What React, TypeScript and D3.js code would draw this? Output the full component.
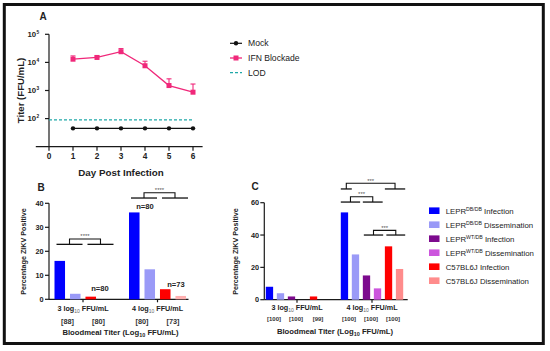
import React from "react";
import * as d3 from "d3";

// ---------- Panel A data ----------
const days = [1, 2, 3, 4, 5, 6];
const ifnMean = [13000, 15000, 24000, 7600, 1500, 870];
const ifnUpper = [17000, 16800, 31000, 11000, 2600, 1700];
const mockValues = [45, 45, 45, 45, 45, 45];
const lodValue = 90;
const yTicksA = [2, 3, 4, 5];
const xTicksA = [0, 1, 2, 3, 4, 5, 6];
const legendA = ["Mock", "IFN Blockade", "LOD"];

// ---------- Panel B data ----------
const groupLabels = ["3", "4"];
const bColors = ["#0000ff", "#9a9af7", "#ff0000", "#ffb0b0"];
const bValuesG3 = [16, 2.3, 1.1, 0];
const bValuesG4 = [36.2, 12.5, 4.2, 1.4];
const bCountsG3 = ["[88]", "[80]"];
const bCountsG4 = ["[80]", "[73]"];
const bTicks = [0, 10, 20, 30, 40];

// ---------- Panel C data ----------
const cColors = ["#0000ff", "#9a9af7", "#7d0a8e", "#cc55dd", "#ff0000", "#ff8c8c"];
const cValuesG3 = [8, 4, 2, 0, 2, 0];
const cValuesG4 = [54, 28, 15, 7, 33, 19];
const cCountsG3 = ["[100]", "[100]", "[99]"];
const cCountsG4 = ["[100]", "[100]", "[100]"];
const cTicks = [0, 20, 40, 60];
const cLegendBase = ["LEPR", "LEPR", "LEPR", "LEPR", "C57BL6J", "C57BL6J"];
const cLegendSup = ["DB/DB", "DB/DB", "WT/DB", "WT/DB", "", ""];
const cLegendKind = ["Infection", "Dissemination", "Infection", "Dissemination", "Infection", "Dissemination"];

const FONT = "'Liberation Sans', Arial, sans-serif";
const AXIS = "#1a1a1a";

function GroupLabel({ x, y, v }: { x: number; y: number; v: string }) {
  return (
    <text x={x} y={y} textAnchor="middle" fontSize={7.2} fontWeight="bold" fill="#222">
      {v} log<tspan fontSize={5} fontWeight="normal" fill="#666" dy={2}>10</tspan>
      <tspan dy={-2}> FFU/mL</tspan>
    </text>
  );
}

function XTitle({ x, y }: { x: number; y: number }) {
  return (
    <text x={x} y={y} textAnchor="middle" fontSize={7.7} fontWeight="bold" fill="#222">
      Bloodmeal Titer (Log<tspan fontSize={5.5} dy={2}>10</tspan>
      <tspan dy={-2}> FFU/mL)</tspan>
    </text>
  );
}

function Bracket({ l0, l1, r0, r1, yLow, yTop, stars }: any) {
  const lc = (l0 + l1) / 2;
  const rc = (r0 + r1) / 2;
  return (
    <g>
      <line x1={l0} x2={l1} y1={yLow} y2={yLow} stroke="#111" strokeWidth={1.3} />
      <line x1={r0} x2={r1} y1={yLow} y2={yLow} stroke="#111" strokeWidth={1.3} />
      <path d={`M${lc},${yLow}V${yTop}H${rc}V${yLow}`} fill="none" stroke="#111" strokeWidth={1.1} />
      <text x={(lc + rc) / 2} y={yTop - 0.8} textAnchor="middle" fontSize={6} fill="#555">
        {stars}
      </text>
    </g>
  );
}

export default function App() {
  // ---- Panel A scales ----
  const xA = d3.scaleLinear().domain([0, 6]).range([49, 193]);
  const yA = d3.scaleLog().domain([10, 1e5]).range([146.7, 34.3]);
  const ifnLine = d3.line<number>().x((_, i) => xA(days[i])).y((v) => yA(v))(ifnMean) || "";
  const mockLine = d3.line<number>().x((_, i) => xA(days[i])).y((v) => yA(v))(mockValues) || "";

  // ---- Panel B scales ----
  const gB = d3.scalePoint<string>().domain(groupLabels).range([83, 157.5]);
  const innerB = d3.scaleBand<number>().domain([0, 1, 2, 3]).range([-28.5, 28.5]).paddingInner(0.32);
  const yB = d3.scaleLinear().domain([0, 40]).range([299.3, 203.3]);
  const bValues = [bValuesG3, bValuesG4];
  const bCounts = [bCountsG3, bCountsG4];
  const bx0 = (g: number, i: number) => (gB(groupLabels[g]) as number) + (innerB(i) as number);
  const bx1 = (g: number, i: number) => bx0(g, i) + innerB.bandwidth();

  // ---- Panel C scales ----
  const gC = d3.scalePoint<string>().domain(groupLabels).range([297, 372]);
  const innerC = d3.scaleBand<number>().domain([0, 1, 2, 3, 4, 5]).range([-31.2, 31.2]).paddingInner(0.336);
  const yC = d3.scaleLinear().domain([0, 60]).range([299.7, 202.7]);
  const cValues = [cValuesG3, cValuesG4];
  const cCounts = [cCountsG3, cCountsG4];
  const cx0 = (g: number, i: number) => (gC(groupLabels[g]) as number) + (innerC(i) as number);
  const cx1 = (g: number, i: number) => cx0(g, i) + innerC.bandwidth();

  return (
    <svg
      width={550}
      height={351}
      style={{ position: "absolute", left: 0, top: 0, background: "#fff" }}
      fontFamily={FONT}
    >
      <rect x={0} y={0} width={550} height={351} fill="#fff" />
      <rect x={4.3} y={4.5} width={539} height={339} fill="none" stroke="#111" strokeWidth={3} />

      {/* ================= Panel A ================= */}
      <text x={43} y={19.8} textAnchor="middle" fontSize={10} fontWeight="bold" fill="#222">A</text>
      <line x1={49} x2={49} y1={yA(1e5)} y2={yA(10)} stroke={AXIS} strokeWidth={1.2} />
      <line x1={xA(-0.55)} x2={xA(6.4)} y1={yA(10)} y2={yA(10)} stroke={AXIS} strokeWidth={1.2} />
      {yTicksA.map((p) => (
        <g key={p}>
          <line x1={45} x2={49} y1={yA(Math.pow(10, p))} y2={yA(Math.pow(10, p))} stroke={AXIS} strokeWidth={1.2} />
          <text x={36.2} y={yA(Math.pow(10, p)) + 2.8} textAnchor="end" fontSize={7.8} fontWeight="bold" fill="#222">10</text>
          <text x={36.5} y={yA(Math.pow(10, p)) - 0.6} fontSize={4.8} fontWeight="bold" fill="#222">{p}</text>
        </g>
      ))}
      {xTicksA.map((t) => (
        <g key={t}>
          <line x1={xA(t)} x2={xA(t)} y1={yA(10)} y2={yA(10) + 4} stroke={AXIS} strokeWidth={1.2} />
          <text x={xA(t)} y={159} textAnchor="middle" fontSize={8.3} fontWeight="bold" fill="#222">{t}</text>
        </g>
      ))}
      <text x={121} y={175.5} textAnchor="middle" fontSize={9.8} fontWeight="bold" fill="#222">Day Post Infection</text>
      <text transform="translate(23.8,90.5) rotate(-90)" textAnchor="middle" fontSize={9.6} fontWeight="bold" fill="#222">
        Titer (FFU/mL)
      </text>
      {/* LOD */}
      <line x1={xA(0)} x2={xA(6)} y1={yA(lodValue)} y2={yA(lodValue)} stroke="#1fa8a8" strokeWidth={1.3} strokeDasharray="3,2" />
      {/* Mock */}
      <path d={mockLine} fill="none" stroke="#111" strokeWidth={1.2} />
      {mockValues.map((v, i) => (
        <circle key={i} cx={xA(days[i])} cy={yA(v)} r={2.2} fill="#111" />
      ))}
      {/* IFN Blockade */}
      {ifnMean.map((v, i) => (
        <g key={i}>
          <line x1={xA(days[i])} x2={xA(days[i])} y1={yA(v)} y2={yA(ifnUpper[i])} stroke="#f0287a" strokeWidth={1.1} />
          <line x1={xA(days[i]) - 2.5} x2={xA(days[i]) + 2.5} y1={yA(ifnUpper[i])} y2={yA(ifnUpper[i])} stroke="#f0287a" strokeWidth={1.1} />
        </g>
      ))}
      <path d={ifnLine} fill="none" stroke="#f0287a" strokeWidth={1.3} />
      {ifnMean.map((v, i) => (
        <rect key={i} x={xA(days[i]) - 2.5} y={yA(v) - 2.5} width={5} height={5} fill="#f0287a" />
      ))}
      {/* Legend A */}
      {legendA.map((name, i) => {
        const y = 43.3 + i * 14.7;
        return (
          <g key={name}>
            {i === 0 && (
              <>
                <line x1={230} x2={242} y1={y} y2={y} stroke="#111" strokeWidth={1.2} />
                <circle cx={236} cy={y} r={2.2} fill="#111" />
              </>
            )}
            {i === 1 && (
              <>
                <line x1={230} x2={242} y1={y} y2={y} stroke="#f0287a" strokeWidth={1.3} />
                <rect x={233.5} y={y - 2.5} width={5} height={5} fill="#f0287a" />
              </>
            )}
            {i === 2 && (
              <line x1={230} x2={242} y1={y} y2={y} stroke="#1fa8a8" strokeWidth={1.3} strokeDasharray="3,2" />
            )}
            <text x={248} y={y + 3} fontSize={8.6} fill="#222">{name}</text>
          </g>
        );
      })}

      {/* ================= Panel B ================= */}
      <text x={41} y={190.8} textAnchor="middle" fontSize={10} fontWeight="bold" fill="#222">B</text>
      <line x1={49} x2={49} y1={yB(40)} y2={yB(0)} stroke={AXIS} strokeWidth={1.2} />
      <line x1={49} x2={188.5} y1={yB(0)} y2={yB(0)} stroke={AXIS} strokeWidth={1.2} />
      {bTicks.map((t) => (
        <g key={t}>
          <line x1={45} x2={49} y1={yB(t)} y2={yB(t)} stroke={AXIS} strokeWidth={1.2} />
          <text x={43.5} y={yB(t) + 2.5} textAnchor="end" fontSize={7.3} fontWeight="bold" fill="#222">{t}</text>
        </g>
      ))}
      <text transform="translate(26,251.5) rotate(-90)" textAnchor="middle" fontSize={7.2} fontWeight="bold" fill="#222">
        Percentage ZIKV Positive
      </text>
      {bValues.map((vals, g) => (
        <g key={g}>
          {vals.map((v, i) => (
            <rect key={i} x={bx0(g, i)} y={yB(v)} width={innerB.bandwidth()} height={yB(0) - yB(v)} fill={bColors[i]} />
          ))}
          <line x1={gB(groupLabels[g])} x2={gB(groupLabels[g])} y1={yB(0)} y2={yB(0) + 3} stroke={AXIS} strokeWidth={1.2} />
          <GroupLabel x={gB(groupLabels[g]) as number} y={310.5} v={groupLabels[g]} />
          {bCounts[g].map((c, k) => (
            <text key={k} x={(bx0(g, 2 * k) + bx1(g, 2 * k + 1)) / 2} y={323.5} textAnchor="middle" fontSize={7.3} fontWeight="bold" fill="#333">
              {c}
            </text>
          ))}
        </g>
      ))}
      <XTitle x={120.5} y={334.5} />
      <text x={100} y={291} textAnchor="middle" fontSize={7.6} fontWeight="bold" fill="#222">n=80</text>
      <text x={145} y={208.5} textAnchor="middle" fontSize={7.6} fontWeight="bold" fill="#222">n=80</text>
      <text x={176} y={287} textAnchor="middle" fontSize={7.6} fontWeight="bold" fill="#222">n=73</text>
      <Bracket l0={bx0(0, 0) + 2} l1={bx1(0, 1) + 2} r0={bx0(0, 2) + 2} r1={bx1(0, 3) + 2} yLow={yB(22.9)} yTop={yB(25.1)} stars="****" />
      <Bracket l0={bx0(1, 0) + 2} l1={bx1(1, 1) + 2} r0={bx0(1, 2) + 2} r1={bx1(1, 3) + 2} yLow={yB(42.2)} yTop={yB(44.4)} stars="****" />

      {/* ================= Panel C ================= */}
      <text x={255} y={190.3} textAnchor="middle" fontSize={10} fontWeight="bold" fill="#222">C</text>
      <line x1={264.3} x2={264.3} y1={yC(60)} y2={yC(0)} stroke={AXIS} strokeWidth={1.2} />
      <line x1={264.3} x2={407.7} y1={yC(0)} y2={yC(0)} stroke={AXIS} strokeWidth={1.2} />
      {cTicks.map((t) => (
        <g key={t}>
          <line x1={260.3} x2={264.3} y1={yC(t)} y2={yC(t)} stroke={AXIS} strokeWidth={1.2} />
          <text x={259} y={yC(t) + 2.5} textAnchor="end" fontSize={7.3} fontWeight="bold" fill="#222">{t}</text>
        </g>
      ))}
      <text transform="translate(238,251.5) rotate(-90)" textAnchor="middle" fontSize={7.2} fontWeight="bold" fill="#222">
        Percentage ZIKV Positive
      </text>
      {cValues.map((vals, g) => (
        <g key={g}>
          {vals.map((v, i) => (
            <rect key={i} x={cx0(g, i)} y={yC(v)} width={innerC.bandwidth()} height={yC(0) - yC(v)} fill={cColors[i]} />
          ))}
          <line x1={gC(groupLabels[g])} x2={gC(groupLabels[g])} y1={yC(0)} y2={yC(0) + 3} stroke={AXIS} strokeWidth={1.2} />
          <GroupLabel x={gC(groupLabels[g]) as number} y={310} v={groupLabels[g]} />
          {cCounts[g].map((c, k) => (
            <text key={k} x={(cx0(g, 2 * k) + cx1(g, 2 * k + 1)) / 2 - 1} y={320.5} textAnchor="middle" fontSize={6} fontWeight="bold" fill="#333">
              {c}
            </text>
          ))}
        </g>
      ))}
      <XTitle x={335} y={334} />
      <Bracket l0={cx0(1, 0)} l1={cx0(1, 0) + 11} r0={cx0(1, 4)} r1={cx1(1, 5) + 2} yLow={yC(68.5)} yTop={yC(72)} stars="***" />
      <Bracket l0={cx0(1, 0)} l1={cx1(1, 1) + 1} r0={cx0(1, 2)} r1={cx1(1, 3) + 1.5} yLow={yC(60.4)} yTop={yC(63.7)} stars="***" />
      <Bracket l0={cx0(1, 2) + 1} l1={cx1(1, 3) + 2} r0={cx0(1, 4) + 1.5} r1={cx1(1, 5) + 2} yLow={yC(40)} yTop={yC(42.9)} stars="***" />

      {/* Legend C */}
      {cColors.map((col, i) => {
        const y = 210.7 + i * 14;
        return (
          <g key={i}>
            <rect x={429} y={y - 3.3} width={10.5} height={6.6} fill={col} />
            <text x={445.7} y={y + 2.9} fontSize={7.8} fill="#222">
              {cLegendBase[i]}
              {cLegendSup[i] && (
                <tspan fontSize={5.2} dy={-3}>{cLegendSup[i]}</tspan>
              )}
              <tspan dy={cLegendSup[i] ? 3 : 0}>{" " + cLegendKind[i]}</tspan>
            </text>
          </g>
        );
      })}
    </svg>
  );
}
